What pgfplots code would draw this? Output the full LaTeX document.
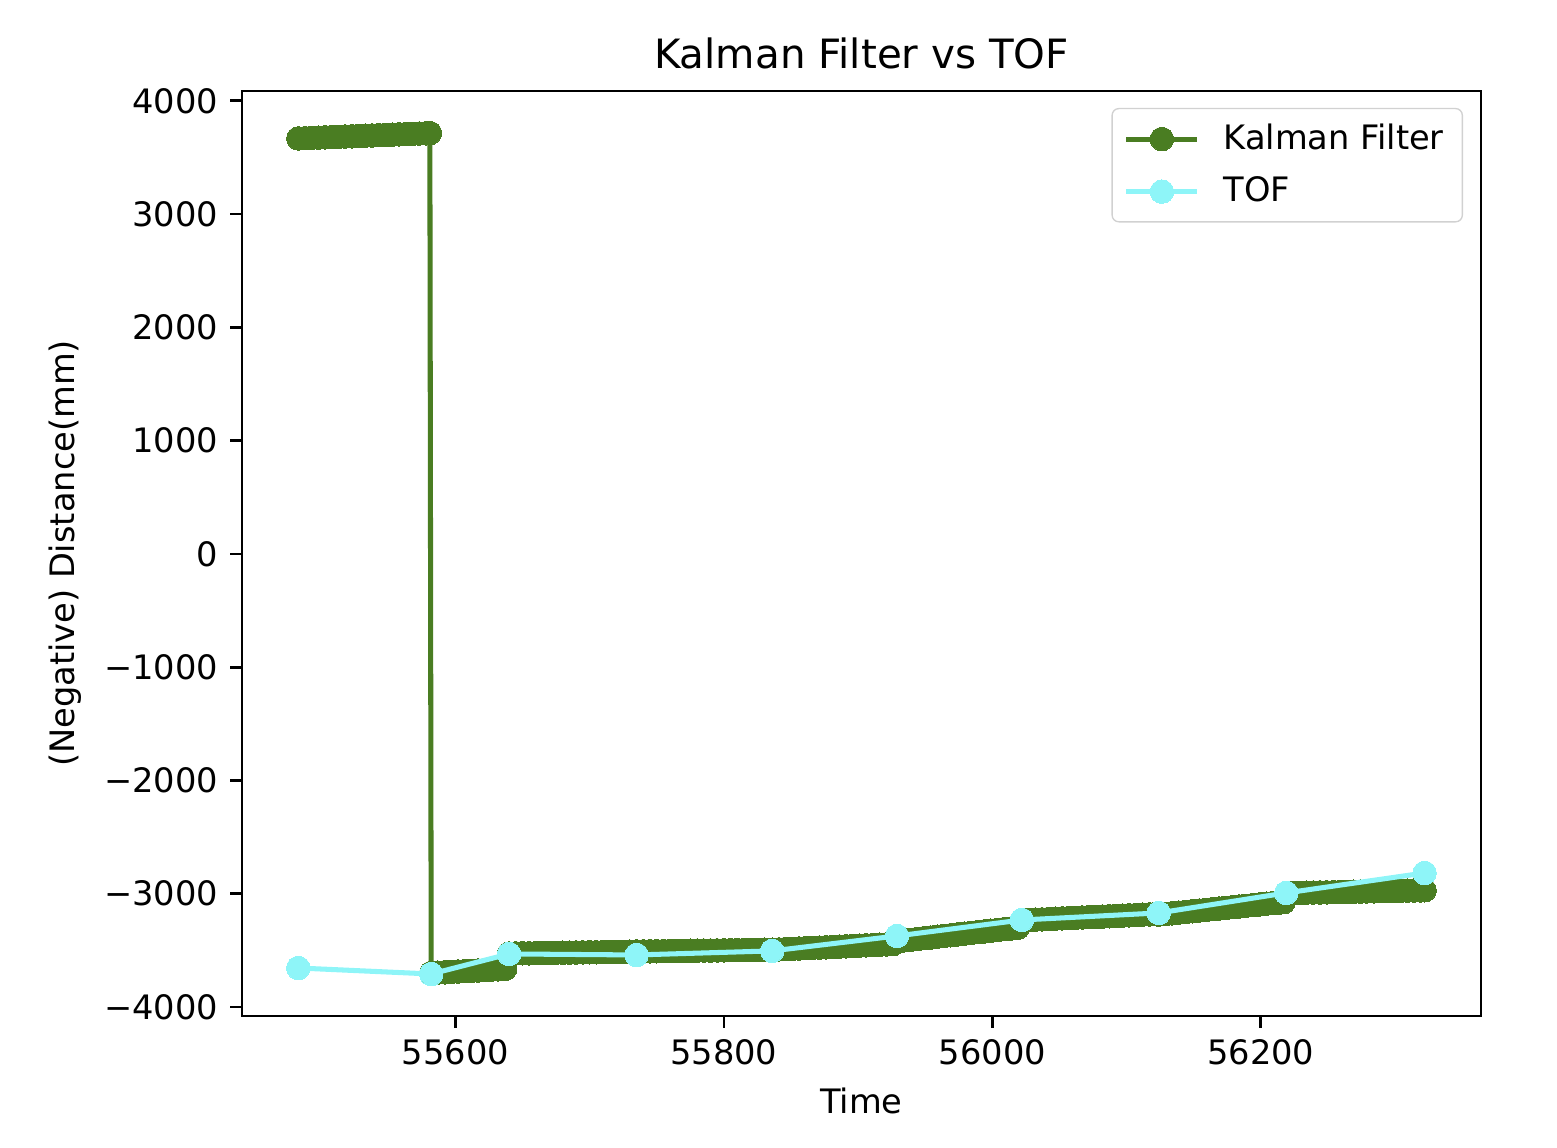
\documentclass[border=0pt]{standalone}
\usepackage{fontspec}
\setmainfont{DejaVu Sans}
\usepackage{pgfplots}
\pgfplotsset{compat=1.18}
\definecolor{kal}{RGB}{74,125,34}
\definecolor{tof}{RGB}{142,245,248}
\begin{document}
\begin{tikzpicture}
\begin{axis}[
 scale only axis, width=366.7bp, height=273.8bp,
 clip mode=individual,
 xmin=55441, xmax=56364, ymin=-4080, ymax=4088,
 scaled x ticks=false, scaled y ticks=false,
 xtick={55600,55800,56000,56200},
 xticklabels={55600,55800,56000,56200},
 ytick={-4000,-3000,-2000,-1000,0,1000,2000,3000,4000},
 yticklabels={−4000,−3000,−2000,−1000,0,1000,2000,3000,4000},
 tick align=outside, major tick length=3.5pt,
 xtick pos=left, ytick pos=left,
 axis line style={line width=0.8pt},
 tick style={black, line width=0.8pt},
 tick label style={font=\fontsize{10}{12}\selectfont},
 title={Kalman Filter vs TOF}, title style={font=\fontsize{12}{14}\selectfont, yshift=-3bp},
 xlabel={Time}, ylabel={(Negative) Distance(mm)},
 label style={font=\fontsize{10}{12}\selectfont},
 legend style={at={(0.9855,0.9816)}, anchor=north east, draw=black!18, rounded corners=2pt,
   font=\fontsize{10}{12}\selectfont, row sep=2.6bp, inner xsep=3.5bp, inner ysep=2.5bp},
 legend cell align=left,
 legend image code/.code={\draw[mark repeat=2,mark phase=2,#1] plot coordinates {(0cm,0cm) (0.37cm,0cm) (0.74cm,0cm)}; \path (0.74cm+5bp,0cm);},
]
\addplot[color=kal, line width=1.5pt, mark=*, mark size=3.5pt, mark options={fill=kal, draw=kal, line width=0pt}] coordinates {
(55483,3668) (55488,3670) (55493,3673) (55498,3675) (55503,3678) (55508,3680) (55513,3682) (55518,3685) (55523,3687) (55528,3690) (55533,3692) (55538,3694) (55543,3697) (55548,3699) (55553,3701) (55558,3704) (55563,3706) (55568,3709) (55573,3711) (55578,3713) (55581,3715)
(55582,-3700) (55587,-3697) (55592,-3694) (55597,-3690) (55602,-3687) (55607,-3684) (55612,-3681) (55617,-3678) (55622,-3674) (55627,-3671) (55632,-3668) (55637,-3665)
(55640,-3528) (55645,-3527) (55650,-3526) (55655,-3526) (55660,-3525) (55665,-3524) (55670,-3523) (55675,-3522) (55680,-3521) (55685,-3520) (55690,-3519) (55695,-3518) (55700,-3517) (55705,-3517) (55710,-3516) (55715,-3515) (55720,-3514) (55725,-3513) (55730,-3512)
(55735,-3510) (55740,-3509) (55745,-3508) (55750,-3508) (55755,-3507) (55760,-3506) (55765,-3505) (55770,-3505) (55775,-3504) (55780,-3503) (55785,-3502) (55790,-3502) (55795,-3501) (55800,-3500) (55805,-3499) (55810,-3498) (55815,-3498) (55820,-3497) (55825,-3496) (55830,-3495)
(55836,-3495) (55841,-3492) (55846,-3489) (55851,-3487) (55856,-3484) (55861,-3481) (55866,-3478) (55871,-3476) (55876,-3473) (55881,-3470) (55886,-3467) (55891,-3465) (55896,-3462) (55901,-3459) (55906,-3456) (55911,-3454) (55916,-3451) (55921,-3448) (55926,-3445)
(55929,-3420) (55934,-3413) (55939,-3407) (55944,-3400) (55949,-3393) (55954,-3387) (55959,-3380) (55964,-3373) (55969,-3367) (55974,-3360) (55979,-3353) (55984,-3347) (55989,-3340) (55994,-3333) (55999,-3327) (56004,-3320) (56009,-3313) (56014,-3307) (56019,-3300)
(56022,-3235) (56027,-3232) (56032,-3229) (56037,-3227) (56042,-3224) (56047,-3221) (56052,-3218) (56057,-3216) (56062,-3213) (56067,-3210) (56072,-3207) (56077,-3205) (56082,-3202) (56087,-3199) (56092,-3196) (56097,-3194) (56102,-3191) (56107,-3188) (56112,-3185) (56117,-3183) (56121,-3180)
(56124,-3185) (56129,-3179) (56134,-3173) (56139,-3167) (56144,-3161) (56149,-3155) (56154,-3149) (56159,-3143) (56164,-3137) (56169,-3131) (56174,-3125) (56179,-3119) (56184,-3113) (56189,-3107) (56194,-3101) (56199,-3095) (56204,-3089) (56209,-3083) (56214,-3078) (56217,-3075)
(56219,-2995) (56224,-2994) (56229,-2993) (56234,-2991) (56239,-2990) (56244,-2989) (56249,-2988) (56254,-2987) (56259,-2985) (56264,-2984) (56269,-2983) (56274,-2982) (56279,-2980) (56284,-2979) (56289,-2978) (56294,-2977) (56299,-2976) (56304,-2974) (56309,-2973) (56314,-2972) (56319,-2971) (56322,-2970)
};
\addlegendentry{Kalman Filter}
\addplot[color=tof, line width=1.5pt, mark=*, mark size=3.5pt, mark options={fill=tof, draw=tof, line width=0pt}] coordinates {
(55483,-3656) (55582,-3709) (55640,-3532) (55735,-3541) (55836,-3505) (55929,-3373) (56022,-3232) (56124,-3170) (56219,-2993) (56322,-2817)
};
\addlegendentry{TOF}
\end{axis}
\path ([xshift=-71.6bp,yshift=-38.8bp]current axis.south west) rectangle ([xshift=22.5bp,yshift=26.9bp]current axis.north east);
\end{tikzpicture}
\end{document}
